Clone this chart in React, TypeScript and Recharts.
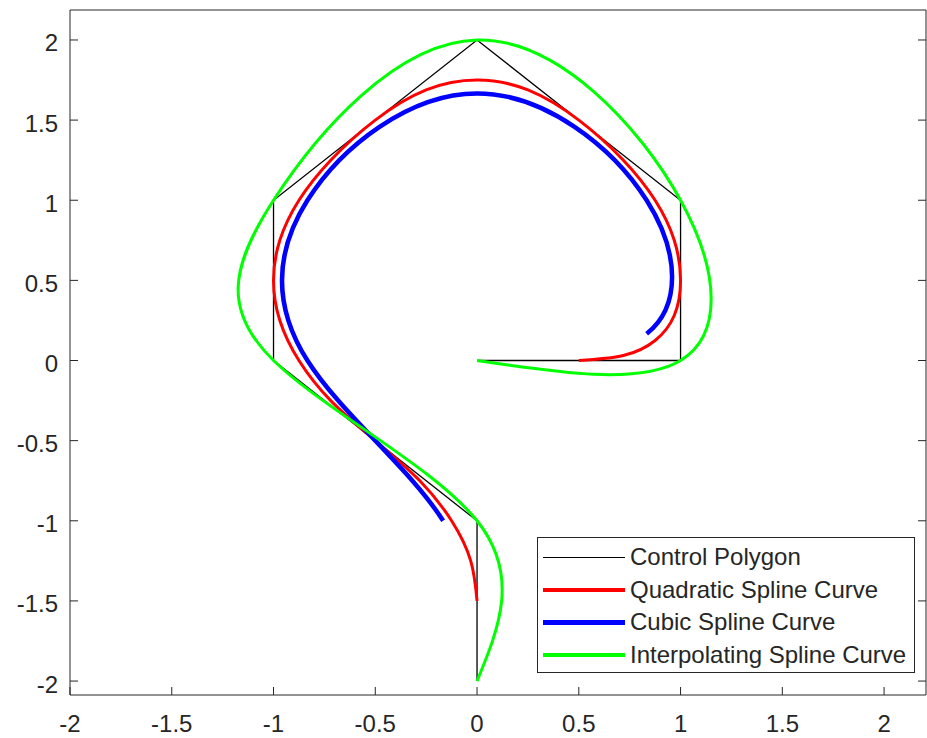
import React from 'react';
import { LineChart, Line, XAxis, YAxis, Legend } from 'recharts';

// control polygon vertices
const controlX = [0, 1, 1, 0, -1, -1, 0, 0];
const controlY = [0, 0, 1, 2, 1, 0, -1, -2];

// quadratic spline curve
const quadX = [0.5, 0.719, 0.875, 0.969, 1, 0.969, 0.875, 0.719, 0.5, 0.25, 0, -0.25, -0.5, -0.719, -0.875, -0.969, -1, -0.969, -0.875, -0.719, -0.5, -0.281, -0.125, -0.031, 0];
const quadY = [0, 0.031, 0.125, 0.281, 0.5, 0.75, 1, 1.25, 1.5, 1.688, 1.75, 1.688, 1.5, 1.25, 1, 0.75, 0.5, 0.25, 0, -0.25, -0.5, -0.75, -1, -1.25, -1.5];

const xTicks = [-2, -1.5, -1, -0.5, 0, 0.5, 1, 1.5, 2];
const yTicks = [-2, -1.5, -1, -0.5, 0, 0.5, 1, 1.5, 2];

const seriesNames = ['Control Polygon', 'Quadratic Spline Curve', 'Cubic Spline Curve', 'Interpolating Spline Curve'];
const seriesColors = ['#000000', '#ff0000', '#0000ff', '#00ff00'];
const legendWidths = [1.3, 3.5, 5, 3.5];

const toPoints = (xs: number[], ys: number[]) => xs.map((x, i) => ({ x, y: ys[i] }));
const controlPts = toPoints(controlX, controlY);
const quadPts = toPoints(quadX, quadY);

const FONT = '"Liberation Sans", Arial, Helvetica, sans-serif';
const AXIS = '#262626';

const XTick = (props: any) => (
  <text x={props.x} y={props.y - 2} dy="0.71em" textAnchor="middle" fill={AXIS} fontSize={24} fontFamily={FONT}>
    {props.payload.value}
  </text>
);

const YTick = (props: any) => (
  <text x={props.x} y={props.y + 3} dy="0.355em" textAnchor="end" fill={AXIS} fontSize={24} fontFamily={FONT}>
    {props.payload.value}
  </text>
);

// top/right box axes: tick marks only, no labels
const NoLabel = () => <g />;

const LegendBox = () => (
  <div
    style={{
      boxSizing: 'border-box',
      width: 378,
      height: 136,
      border: `1px solid ${AXIS}`,
      background: '#fff',
      padding: '3px 0 0 5px',
      fontFamily: FONT,
      fontSize: 24,
      color: AXIS,
    }}
  >
    {seriesNames.map((name, i) => (
      <div key={name} style={{ display: 'flex', alignItems: 'center', height: 32.5, whiteSpace: 'nowrap' }}>
        <div style={{ width: 82, height: legendWidths[i], background: seriesColors[i], marginRight: 5 }} />
        <span>{name}</span>
      </div>
    ))}
  </div>
);

export default function App() {
  return (
    <div style={{ position: 'absolute', left: 0, top: 0 }}>
      <LineChart width={927} height={738} margin={{ top: 9, right: 0, bottom: 0, left: 0 }}>
        <XAxis
          type="number"
          dataKey="x"
          domain={[-2, 2.206]}
          ticks={xTicks}
          allowDataOverflow
          height={43}
          stroke={AXIS}
          tickSize={-8}
          tickMargin={30}
          tick={<XTick />}
        />
        <XAxis
          xAxisId="top"
          orientation="top"
          type="number"
          domain={[-2, 2.206]}
          ticks={xTicks}
          allowDataOverflow
          height={1}
          stroke={AXIS}
          tickSize={-8}
          tick={<NoLabel />}
        />
        <YAxis
          type="number"
          dataKey="y"
          domain={[-2.087, 2.187]}
          ticks={yTicks}
          allowDataOverflow
          width={70}
          stroke={AXIS}
          tickSize={-8}
          tickMargin={20}
          tick={<YTick />}
        />
        <YAxis
          yAxisId="right"
          orientation="right"
          type="number"
          domain={[-2.087, 2.187]}
          ticks={yTicks}
          allowDataOverflow
          width={1}
          stroke={AXIS}
          tickSize={-8}
          tick={<NoLabel />}
        />
        <Line data={controlPts} dataKey="y" type="linear" stroke={seriesColors[0]} strokeWidth={1.3} dot={false} isAnimationActive={false} />
        <Line data={quadPts} dataKey="y" type="natural" stroke={seriesColors[1]} strokeWidth={3} dot={false} isAnimationActive={false} />
        <Line data={controlPts} dataKey="y" type="basisOpen" stroke={seriesColors[2]} strokeWidth={4.5} dot={false} isAnimationActive={false} />
        <Line data={controlPts} dataKey="y" type="natural" stroke={seriesColors[3]} strokeWidth={3} dot={false} isAnimationActive={false} />
        <Legend
          layout="vertical"
          align="center"
          verticalAlign="middle"
          wrapperStyle={{ left: 537, top: 537, width: 378, height: 136 }}
          content={() => <LegendBox />}
        />
      </LineChart>
    </div>
  );
}
